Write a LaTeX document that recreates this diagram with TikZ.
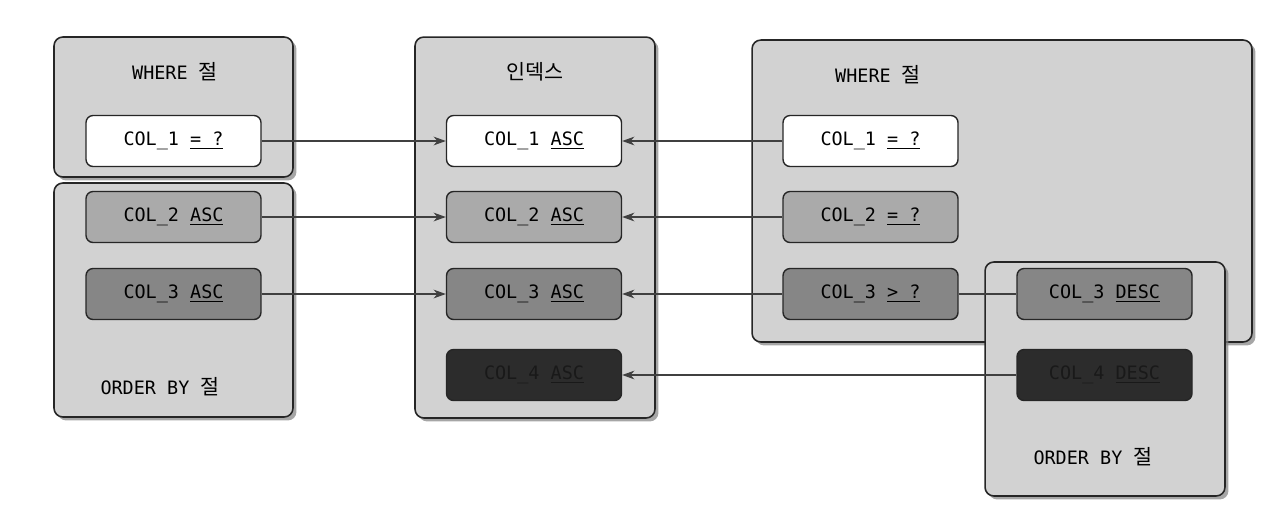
\documentclass[tikz,border=0pt]{standalone}
\usepackage{fontspec}
\setmonofont{DejaVu Sans Mono}
\newfontfamily\krfont[Scale=1.12]{Noto Sans CJK KR}
\usetikzlibrary{positioning,arrows.meta,shadows}
\definecolor{panelgray}{HTML}{D2D2D2}
\definecolor{lightcol}{HTML}{AAAAAA}
\definecolor{midcol}{HTML}{868686}
\definecolor{darkcol}{HTML}{2C2C2C}

\tikzset{
  panel/.style={draw=black!85, fill=panelgray, rounded corners=5pt, line width=0.9pt,
    drop shadow={shadow xshift=0.07cm, shadow yshift=-0.07cm, opacity=0.7}},
  field/.style={draw=black!85, rounded corners=4pt, line width=0.8pt,
    minimum width=3.5cm, minimum height=1.02cm, inner sep=0pt,
    font=\ttfamily\fontsize{10.5}{12}\selectfont},
  caption/.style={font=\ttfamily\fontsize{10.5}{12}\selectfont, inner sep=1pt},
  link/.style={draw=black!75, line width=0.6pt, -{Stealth[length=7pt,width=5pt]}},
  plain/.style={draw=black!75, line width=0.6pt}
}

\begin{document}
\begin{tikzpicture}[x=0.02cm, y=-0.02cm]
    \useasboundingbox (0,0) rectangle (1280,522);

    % panels
    \node[panel, minimum width=4.78cm, minimum height=2.8cm] (where_l) at (173.5,107) {};
    \node[panel, minimum width=4.78cm, minimum height=4.68cm] (order_l) at (173.5,300) {};
    \node[panel, minimum width=4.8cm, minimum height=7.62cm] (index) at (535,227.5) {};
    \node[panel, minimum width=10cm, minimum height=6.04cm] (where_r) at (1002,191) {};

    \node[caption] (t_where_l) at (175,72) {WHERE {\krfont 절}};
    \node[caption] (t_order_l) at (160,387) {ORDER BY {\krfont 절}};
    \node[caption] (t_index) at (535,72) {\krfont 인덱스};
    \node[caption] (t_where_r) at (878,75) {WHERE {\krfont 절}};

    % left column
    \node[field, fill=white] (l1) at (173.5,141) {COL\_1 \underline{= ?}};
    \node[field, fill=lightcol] (l2) at (173.5,217) {COL\_2 \underline{ASC}};
    \node[field, fill=midcol] (l3) at (173.5,294) {COL\_3 \underline{ASC}};

    % index column
    \node[field, fill=white] (i1) at (534,141) {COL\_1 \underline{ASC}};
    \node[field, fill=lightcol] (i2) at (534,217) {COL\_2 \underline{ASC}};
    \node[field, fill=midcol] (i3) at (534,294) {COL\_3 \underline{ASC}};
    \node[field, fill=darkcol, text=black!90] (i4) at (534,375) {COL\_4 \underline{ASC}};

    % right where
    \node[field, fill=white] (r1) at (870.5,141) {COL\_1 \underline{= ?}};
    \node[field, fill=lightcol] (r2) at (870.5,217) {COL\_2 \underline{= ?}};
    \node[field, fill=midcol] (r3) at (870.5,294) {COL\_3 \underline{> ?}};

    % right order by
    \node[panel, minimum width=4.8cm, minimum height=4.68cm] (order_r) at (1105,379) {};
    \node[caption] (t_order_r) at (1093,457) {ORDER BY {\krfont 절}};
    \node[field, fill=midcol] (d3) at (1104.5,294) {COL\_3 \underline{DESC}};
    \node[field, fill=darkcol, text=black!90] (d4) at (1104.5,375) {COL\_4 \underline{DESC}};

    \draw[link] (l1) -- (i1);
    \draw[link] (l2) -- (i2);
    \draw[link] (l3) -- (i3);
    \draw[link] (r1) -- (i1);
    \draw[link] (r2) -- (i2);
    \draw[link] (r3) -- (i3);
    \draw[plain] (r3) -- (d3);
    \draw[link] (d4) -- (i4);
\end{tikzpicture}
\end{document}
